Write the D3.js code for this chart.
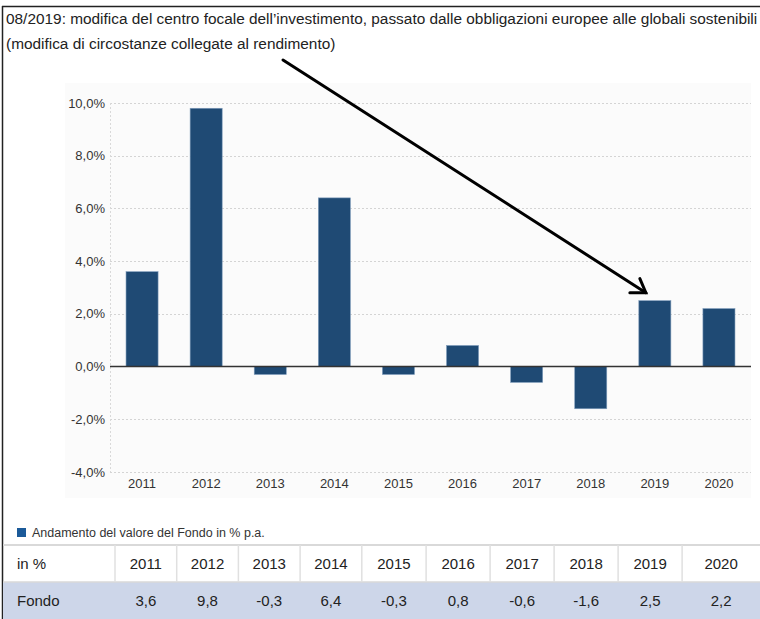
<!DOCTYPE html>
<html>
<head>
<meta charset="utf-8">
<script src="https://cdn.jsdelivr.net/npm/d3@7"></script>
<style>
  body { margin: 0; background: #fff; }
  svg text { font-family: "Liberation Sans", Arial, sans-serif; }
</style>
</head>
<body>
<svg id="chart" width="760" height="619"></svg>
<script>
const width = 760, height = 619;

// data
var years = ["2011", "2012", "2013", "2014", "2015", "2016", "2017", "2018", "2019", "2020"];
var fondo = [3.6, 9.8, -0.3, 6.4, -0.3, 0.8, -0.6, -1.6, 2.5, 2.2];
var yTicks = [-4, -2, 0, 2, 4, 6, 8, 10];
var titleLines = [
  "08/2019: modifica del centro focale dell\u2019investimento, passato dalle obbligazioni europee alle globali sostenibili",
  "(modifica di circostanze collegate al rendimento)"
];
var legendLabel = "Andamento del valore del Fondo in % p.a.";
var rowHeader = "in %";
var rowLabel = "Fondo";

var barColor = "#1f4a74";
var fmt = v => d3.format(".1f")(v).replace(".", ",").replace("\u2212", "-");

var svg = d3.select("#chart");

// outer frame
svg.append("line").attr("x1", 2.5).attr("x2", 2.5).attr("y1", 6).attr("y2", height)
  .attr("stroke", "#222").attr("stroke-width", 1.5);
svg.append("line").attr("x1", 2).attr("x2", width).attr("y1", 6.5).attr("y2", 6.5)
  .attr("stroke", "#222").attr("stroke-width", 1.5);

// title
svg.selectAll(".title").data(titleLines).enter().append("text")
  .attr("class", "title")
  .attr("x", 6)
  .attr("y", (d, i) => 24 + i * 25)
  .attr("font-size", 15.4)
  .attr("fill", "#222")
  .text(d => d);

// plot background
svg.append("rect").attr("x", 65).attr("y", 83).attr("width", 686).attr("height", 415)
  .attr("fill", "#fbfbfb");

var x = d3.scaleBand().domain(years).range([110, 751]).paddingInner(0.5).paddingOuter(0.25);
var y = d3.scaleLinear().domain([-4, 10]).range([472, 103]);

// grid
svg.append("g").selectAll("line").data(yTicks.filter(d => d != 0)).enter().append("line")
  .attr("x1", 110).attr("x2", 751)
  .attr("y1", d => Math.round(y(d)) + 0.5).attr("y2", d => Math.round(y(d)) + 0.5)
  .attr("stroke", "#d4d4d4").attr("stroke-dasharray", "2,2");
svg.append("line").attr("x1", 110.5).attr("x2", 110.5).attr("y1", y(10)).attr("y2", y(-4))
  .attr("stroke", "#d9d9d9").attr("stroke-dasharray", "2,2");

// y labels
svg.append("g").selectAll("text").data(yTicks).enter().append("text")
  .attr("x", 105).attr("y", d => y(d) + 4.5)
  .attr("text-anchor", "end").attr("font-size", 13).attr("fill", "#333")
  .text(d => fmt(d) + "%");

// bars
svg.append("g").selectAll("rect").data(fondo).enter().append("rect")
  .attr("x", (d, i) => x(years[i]))
  .attr("width", x.bandwidth())
  .attr("y", d => y(Math.max(0, d)))
  .attr("height", d => Math.abs(y(d) - y(0)))
  .attr("fill", barColor)
  .attr("stroke", "#7f9cbb").attr("stroke-width", 0.6);

// zero line
svg.append("line").attr("x1", 110).attr("x2", 751).attr("y1", y(0)).attr("y2", y(0))
  .attr("stroke", "#333").attr("stroke-width", 1.5);

// x labels
svg.append("g").selectAll("text").data(years).enter().append("text")
  .attr("x", d => x(d) + x.bandwidth() / 2).attr("y", 488)
  .attr("text-anchor", "middle").attr("font-size", 13).attr("fill", "#333")
  .text(d => d);

// arrow pointing at 2019
var tipX = x("2019") + x.bandwidth() / 2 - 9;
var tipY = y(fondo[8]) - 8;
svg.append("line").attr("x1", 283).attr("y1", 60).attr("x2", tipX).attr("y2", tipY)
  .attr("stroke", "#000").attr("stroke-width", 3).attr("stroke-linecap", "round");
svg.append("path")
  .attr("d", `M${tipX - 16},${tipY} L${tipX},${tipY} L${tipX - 6},${tipY - 14}`)
  .attr("fill", "none").attr("stroke", "#000").attr("stroke-width", 3)
  .attr("stroke-linecap", "round").attr("stroke-linejoin", "miter");

// legend
svg.append("rect").attr("x", 17).attr("y", 528).attr("width", 9).attr("height", 9)
  .attr("fill", "#1b5a99");
svg.append("text").attr("x", 32).attr("y", 537).attr("font-size", 12.5).attr("fill", "#333")
  .text(legendLabel);

// table
var colW = [115, 61.7, 61.7, 61.7, 61.7, 64.3, 64, 64, 64, 64, 78];
var colX = [0];
colW.forEach((w, i) => colX.push(colX[i] + w));
var headY = 545, rowH = 37;

svg.append("rect").attr("x", 3).attr("y", headY + rowH).attr("width", width).attr("height", rowH)
  .attr("fill", "#cdd6e9");
svg.append("line").attr("x1", 3).attr("x2", width).attr("y1", headY).attr("y2", headY)
  .attr("stroke", "#d9d9d9").attr("stroke-width", 2);
svg.append("line").attr("x1", 3).attr("x2", width).attr("y1", headY + rowH).attr("y2", headY + rowH)
  .attr("stroke", "#d9d9d9").attr("stroke-width", 1.5);
svg.append("g").selectAll("line").data(colX.slice(1, 11)).enter().append("line")
  .attr("x1", d => d).attr("x2", d => d).attr("y1", headY).attr("y2", headY + rowH)
  .attr("stroke", "#e0e0e0").attr("stroke-width", 1.5);

svg.append("text").attr("x", 17).attr("y", headY + 24).attr("font-size", 15).attr("fill", "#222").text(rowHeader);
svg.append("text").attr("x", 17).attr("y", headY + rowH + 24).attr("font-size", 15).attr("fill", "#222").text(rowLabel);

svg.append("g").selectAll("text").data(years).enter().append("text")
  .attr("x", (d, i) => colX[i + 1] + colW[i + 1] / 2).attr("y", headY + 24)
  .attr("text-anchor", "middle").attr("font-size", 15).attr("fill", "#222")
  .text(d => d);
svg.append("g").selectAll("text").data(fondo).enter().append("text")
  .attr("x", (d, i) => colX[i + 1] + colW[i + 1] / 2).attr("y", headY + rowH + 24)
  .attr("text-anchor", "middle").attr("font-size", 15).attr("fill", "#222")
  .text(d => fmt(d));
</script>
</body>
</html>
